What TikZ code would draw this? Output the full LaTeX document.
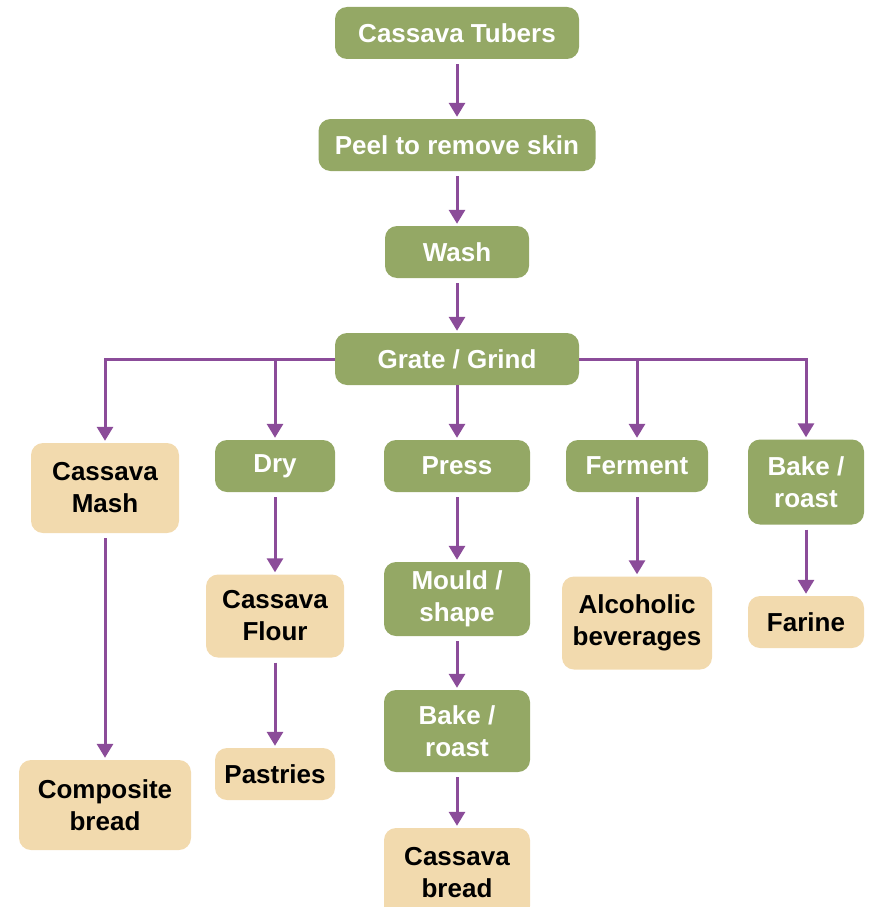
\documentclass[tikz,border=0pt]{standalone}
\usepackage{fontspec}
\setmainfont{Liberation Sans}
\usetikzlibrary{arrows.meta}
\definecolor{processColor}{RGB}{148,168,101}
\definecolor{productColor}{RGB}{242,218,174}
\definecolor{arrowColor}{RGB}{139,76,153}
\tikzstyle{flowChart} = [x = 1pt, y = -1pt]
\tikzstyle{boxStyle} = [rounded corners = 12pt, inner sep = 0pt, align = center, font = \fontsize{26}{32}\selectfont\bfseries]
\tikzstyle{processStyle} = [boxStyle, fill=processColor, text=white]
\tikzstyle{productStyle} = [boxStyle, fill=productColor, text=black]
\tikzstyle{flowLine} = [color=arrowColor, line width=3pt, -{Triangle[length=14pt, width=16pt]}, shorten <= 5pt, shorten >= 2pt]
\tikzstyle{branchLine} = [flowLine, shorten <= 0pt]
\newcommand{\processBox}[6]{\node [processStyle, minimum width=#4pt, minimum height=#5pt] (#1) at (#2,#3) {#6};}
\newcommand{\productBox}[6]{\node [productStyle, minimum width=#4pt, minimum height=#5pt] (#1) at (#2,#3) {#6};}
\newcommand{\flowArrow}[2]{\draw [flowLine] (#1.south) -- (#2.north);}
\newcommand{\branchArrow}[2]{\draw [branchLine] (#1) -| (#2.north);}
\begin{document}
\begin{tikzpicture}[flowChart]
       \useasboundingbox (0,0) rectangle (869,907);
       % main line
       \processBox{tubers}{457}{33}{244}{52}{Cassava Tubers}
       \processBox{peel}{457}{145}{277}{52}{Peel to remove skin}
       \processBox{wash}{457}{252}{144}{52}{Wash}
       \processBox{grate}{457}{359}{244}{52}{Grate / Grind}
       % second row
       \productBox{mash}{105}{488}{148}{90}{Cassava\\Mash}
       \processBox{dry}{275}{466}{120}{52}{Dry}
       \processBox{press}{457}{466}{146}{52}{Press}
       \processBox{ferment}{637}{466}{142}{52}{Ferment}
       \processBox{bakeRight}{806}{482}{116}{85}{Bake /\\roast}
       % lower rows
       \productBox{flour}{275}{616}{138}{83}{Cassava\\Flour}
       \processBox{mould}{457}{599}{146}{74}{Mould /\\shape}
       \productBox{alcohol}{637}{623}{150}{93}{Alcoholic\\beverages}
       \productBox{farine}{806}{622}{116}{52}{Farine}
       \processBox{bakeMiddle}{457}{731}{146}{82}{Bake /\\roast}
       \productBox{composite}{105}{805}{172}{90}{Composite\\bread}
       \productBox{pastries}{275}{774}{120}{52}{Pastries}
       \productBox{bread}{457}{873}{146}{90}{Cassava\\bread}

       \flowArrow{tubers}{peel}
       \flowArrow{peel}{wash}
       \flowArrow{wash}{grate}
       \branchArrow{grate.west}{mash}
       \branchArrow{grate.west}{dry}
       \branchArrow{grate.east}{ferment}
       \branchArrow{grate.east}{bakeRight}
       \draw [branchLine] (grate.south) -- (press.north);
       \flowArrow{mash}{composite}
       \flowArrow{dry}{flour}
       \flowArrow{flour}{pastries}
       \flowArrow{press}{mould}
       \flowArrow{mould}{bakeMiddle}
       \flowArrow{bakeMiddle}{bread}
       \flowArrow{ferment}{alcohol}
       \flowArrow{bakeRight}{farine}
     \end{tikzpicture}
\end{document}
